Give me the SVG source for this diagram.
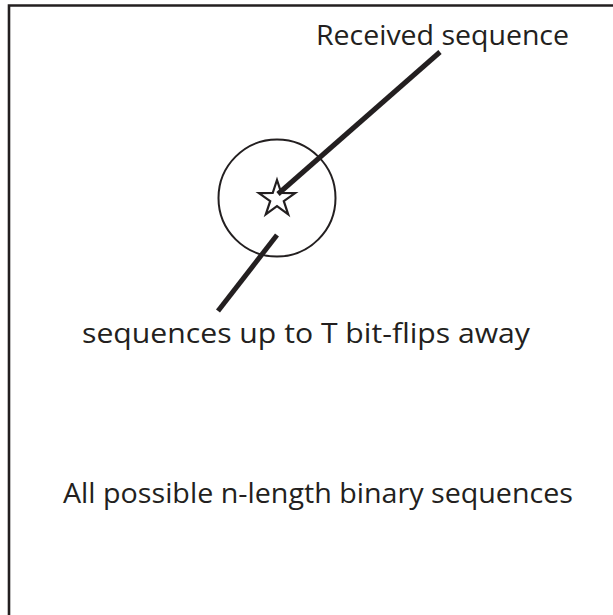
<svg xmlns="http://www.w3.org/2000/svg" width="613" height="615" viewBox="0 0 613 615">
<style>
.t{font-family:"Open Sans","Noto Sans",sans-serif;font-size:27.5px;fill:#231f20}
.ln{stroke:#231f20;fill:none}
</style>
<rect width="613" height="615" fill="#fff"/>
<path class="ln" d="M9,615 V5.5 H613" stroke-width="2.6"/>
<g id="neighborhood">
<circle class="ln" cx="277" cy="198" r="58.5" stroke-width="2"/>
</g>
<g id="received">
<polygon class="ln" stroke-width="2.2" stroke-linejoin="miter" points="277,180 281.3,193 295.1,193.1 283.8,201.1 288.2,214.4 277,206.1 265.8,214.4 270.2,201.1 258.9,193.1 272.7,193"/>
</g>
<g id="labels">
<text class="t" x="316" y="45" textLength="253" lengthAdjust="spacingAndGlyphs">Received sequence</text>
<text class="t" x="82" y="343" textLength="448" lengthAdjust="spacingAndGlyphs">sequences up to T bit-flips away</text>
<text class="t" x="63" y="503" textLength="510" lengthAdjust="spacingAndGlyphs">All possible n-length binary sequences</text>
</g>
<g id="connectors">
<line class="ln" x1="440" y1="52" x2="278" y2="194" stroke-width="5"/>
<line class="ln" x1="277" y1="235" x2="218" y2="311" stroke-width="5"/>
</g>
</svg>
